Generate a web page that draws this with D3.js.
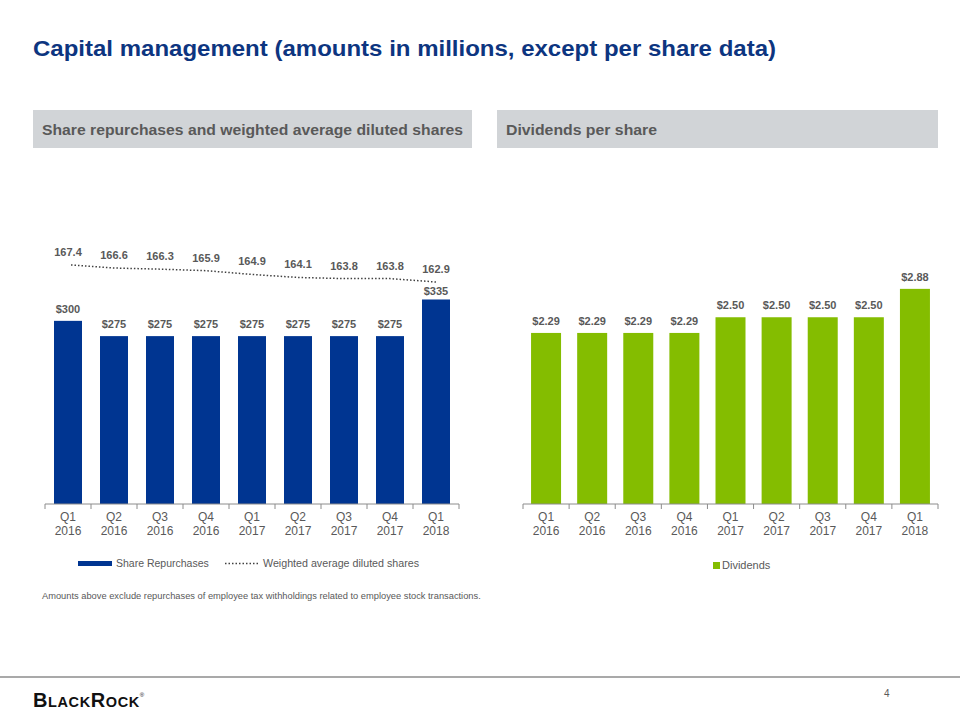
<!DOCTYPE html>
<html><head><meta charset="utf-8">
<script src="https://cdn.jsdelivr.net/npm/d3@7"></script>
<style>body{margin:0;background:#fff}svg{display:block;font-family:"Liberation Sans",Arial,sans-serif}</style>
</head><body><svg id="c" width="960" height="720"></svg>
<script>
const quarters = ["Q1 2016","Q2 2016","Q3 2016","Q4 2016","Q1 2017","Q2 2017","Q3 2017","Q4 2017","Q1 2018"];
const repurchases = [300,275,275,275,275,275,275,275,335];
const dilutedShares = [167.4,166.6,166.3,165.9,164.9,164.1,163.8,163.8,162.9];
const dividends = [2.29,2.29,2.29,2.29,2.50,2.50,2.50,2.50,2.88];

const svg = d3.select("#c");
const gray = "#595959";
const blue = "#003591";
const green = "#84BD00";

// Title
svg.append("text").attr("x",33).attr("y",56).attr("fill","#0d3580")
  .attr("font-size",22).attr("font-weight","bold")
  .attr("textLength",743).attr("lengthAdjust","spacingAndGlyphs")
  .text("Capital management (amounts in millions, except per share data)");

// Header boxes
[[33,472,"Share repurchases and weighted average diluted shares",421],[497,938,"Dividends per share",151]].forEach(([x0,x1,t,w])=>{
  svg.append("rect").attr("x",x0).attr("y",110).attr("width",x1-x0).attr("height",38).attr("fill","#d1d4d7");
  svg.append("text").attr("x",x0+9).attr("y",135).attr("fill",gray).attr("font-size",15.5).attr("font-weight","bold")
    .attr("textLength",w).attr("lengthAdjust","spacingAndGlyphs").text(t);
});

function drawAxis(x, baseline){
  const g = svg.append("g").attr("transform",`translate(0,${baseline})`);
  const [r0,r1] = x.range();
  g.append("line").attr("x1",r0).attr("x2",r1).attr("stroke","#8c8c8c").attr("stroke-width",1);
  const edges = quarters.map((q,i)=> r0 + i*x.step()).concat([r1]);
  g.selectAll("line.t").data(edges).join("line").attr("class","t")
    .attr("x1",d=>d).attr("x2",d=>d).attr("y1",0).attr("y2",5).attr("stroke","#8c8c8c");
  const lab = g.selectAll("text.l").data(quarters).join("text").attr("class","l")
    .attr("text-anchor","middle").attr("fill",gray).attr("font-size",12)
    .attr("transform",d=>`translate(${x(d)+x.bandwidth()/2},0)`);
  lab.append("tspan").attr("x",0).attr("y",17).text(d=>d.split(" ")[0]);
  lab.append("tspan").attr("x",0).attr("y",31).text(d=>d.split(" ")[1]);
}

// LEFT CHART
const baseline = 504;
const xLc = d3.scaleBand().domain(quarters).range([45,459]);
const yL = d3.scaleLinear().domain([0,400]).range([baseline, baseline-244.2]);
const yS = d3.scaleLinear().domain([162.9,167.4]).range([282,265]);
const cx = (x,i)=> x(quarters[i]) + x.bandwidth()/2;

svg.append("g").selectAll("rect").data(repurchases).join("rect")
  .attr("x",(d,i)=>cx(xLc,i)-14).attr("width",28)
  .attr("y",d=>yL(d)).attr("height",d=>baseline-yL(d)).attr("fill",blue);
svg.append("g").selectAll("text").data(repurchases).join("text")
  .attr("x",(d,i)=>cx(xLc,i)).attr("y",(d,i)=>Math.max(yL(d)-8, yS(dilutedShares[i])+13))
  .attr("text-anchor","middle").attr("fill",gray).attr("font-size",11).attr("font-weight","bold")
  .text(d=>"$"+d);

const line = d3.line().x((d,i)=>cx(xLc,i)+ (i===0?3:0)).y(d=>yS(d));
svg.append("path").datum(dilutedShares).attr("d",line).attr("fill","none")
  .attr("stroke","#404040").attr("stroke-width",1.5).attr("stroke-dasharray","1.5,2");
svg.append("g").selectAll("text").data(dilutedShares).join("text")
  .attr("x",(d,i)=>cx(xLc,i)).attr("y",d=>yS(d)-9)
  .attr("text-anchor","middle").attr("fill",gray).attr("font-size",11).attr("font-weight","bold")
  .text(d=>d.toFixed(1));
drawAxis(xLc, baseline);

// left legend
svg.append("rect").attr("x",78).attr("y",561).attr("width",34).attr("height",5).attr("fill",blue);
svg.append("text").attr("x",116).attr("y",567).attr("fill",gray).attr("font-size",10.5).text("Share Repurchases");
svg.append("line").attr("x1",225).attr("x2",258).attr("y1",563.5).attr("y2",563.5)
  .attr("stroke","#404040").attr("stroke-width",1.5).attr("stroke-dasharray","1.5,2");
svg.append("text").attr("x",263).attr("y",567).attr("fill",gray).attr("font-size",10.7).text("Weighted average diluted shares");
svg.append("text").attr("x",42).attr("y",599).attr("fill",gray).attr("font-size",9.3)
  .text("Amounts above exclude repurchases of employee tax withholdings related  to employee stock transactions.");

// RIGHT CHART
const xR = d3.scaleBand().domain(quarters).range([523,938]);
const yR = d3.scaleLinear().domain([0,3]).range([baseline, baseline-224.1]);
svg.append("g").selectAll("rect").data(dividends).join("rect")
  .attr("x",(d,i)=>cx(xR,i)-15).attr("width",30)
  .attr("y",d=>yR(d)).attr("height",d=>baseline-yR(d)).attr("fill",green);
svg.append("g").selectAll("text").data(dividends).join("text")
  .attr("x",(d,i)=>cx(xR,i)).attr("y",d=>yR(d)-8)
  .attr("text-anchor","middle").attr("fill",gray).attr("font-size",11).attr("font-weight","bold")
  .text(d=>"$"+d.toFixed(2));
drawAxis(xR, baseline);
svg.append("rect").attr("x",713).attr("y",562).attr("width",7).attr("height",7).attr("fill",green);
svg.append("text").attr("x",722).attr("y",569).attr("fill",gray).attr("font-size",11).text("Dividends");

// footer
svg.append("line").attr("x1",0).attr("x2",960).attr("y1",677).attr("y2",677).attr("stroke","#8c8c8c").attr("stroke-width",1.5);
const logo = svg.append("text").attr("x",33).attr("y",707).attr("fill","#111").attr("font-size",20).attr("font-weight","bold").attr("letter-spacing",0.6);
logo.append("tspan").text("B");
logo.append("tspan").attr("font-size",14.5).text("LACK");
logo.append("tspan").text("R");
logo.append("tspan").attr("font-size",14.5).text("OCK");
logo.append("tspan").attr("font-size",6).attr("font-weight","normal").attr("dy",-10).text("®");
svg.append("text").attr("x",884).attr("y",697).attr("fill",gray).attr("font-size",10).text("4");
</script></body></html>
